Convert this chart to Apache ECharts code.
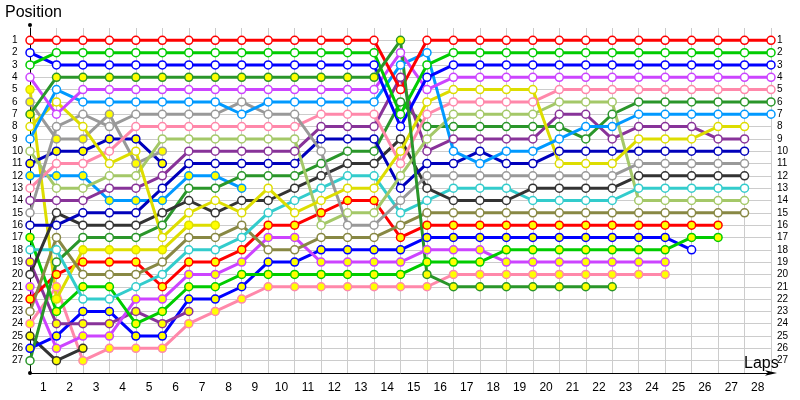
<!DOCTYPE html>
<html>
<head>
<meta charset="utf-8">
<script src="https://cdn.jsdelivr.net/npm/echarts@6/dist/echarts.min.js"></script>
<style>
  html, body { margin: 0; padding: 0; background: #fff; }
  #chart { width: 800px; height: 400px; }
</style>
</head>
<body>
<div id="chart"></div>
<script>
// lap labels, shown between the lap lines
const lapLabels = ['1', '2', '3', '4', '5', '6', '7', '8', '9', '10', '11', '12', '13', '14',
  '15', '16', '17', '18', '19', '20', '21', '22', '23', '24', '25', '26', '27', '28']

// running position of each car, index 0 = grid, then one value per lap
const redCar = [1, 1, 1, 1, 1, 1, 1, 1, 1, 1, 1, 1, 1, 1, 5, 1, 1, 1, 1, 1, 1, 1, 1, 1, 1, 1, 1, 1, 1]
const greenCar = [3, 2, 2, 2, 2, 2, 2, 2, 2, 2, 2, 2, 2, 2, 7, 3, 2, 2, 2, 2, 2, 2, 2, 2, 2, 2, 2, 2, 2]
const blueCar = [2, 3, 3, 3, 3, 3, 3, 3, 3, 3, 3, 3, 3, 3, 8, 4, 3, 3, 3, 3, 3, 3, 3, 3, 3, 3, 3, 3, 3]
const violetCar = [4, 7, 5, 5, 5, 5, 5, 5, 5, 5, 5, 5, 5, 5, 2, 5, 4, 4, 4, 4, 4, 4, 4, 4, 4, 4, 4, 4, 4]
const skyCar = [9, 5, 6, 6, 6, 6, 6, 6, 7, 6, 6, 6, 6, 6, 3, 2, 10, 11, 10, 10, 9, 8, 8, 7, 7, 7, 7, 7, 7]
const grayCar = [15, 8, 7, 8, 7, 7, 7, 7, 6, 7, 7, 10, 16, 16, 14, 12, 12, 12, 12, 12, 12, 12, 12, 11, 11, 11, 11, 11]
const pinkCar = [13, 11, 11, 10, 8, 8, 8, 8, 8, 8, 8, 7, 7, 7, 11, 7, 6, 6, 6, 6, 5, 5, 5, 5, 5, 5, 5, 5, 5]
const limeCar = [10, 13, 13, 12, 12, 9, 9, 9, 9, 9, 9, 16, 15, 15, 12, 9, 7, 7, 7, 7, 6, 6, 6, 14, 14, 14, 14, 14]
const purpleCar = [14, 14, 14, 13, 13, 12, 10, 10, 10, 10, 10, 8, 8, 8, 4, 10, 9, 9, 9, 9, 7, 7, 9, 8, 8, 8, 9, 9]
const navyCar = [16, 16, 15, 15, 15, 13, 11, 11, 11, 11, 11, 9, 9, 9, 13, 11, 11, 10, 11, 11, 10, 10, 10, 10, 10, 10, 10, 10]
const forestCar = [27, 19, 17, 17, 17, 16, 13, 13, 12, 12, 12, 11, 10, 10, 6, 8, 8, 8, 8, 8, 8, 9, 7, 6, 6, 6, 6, 6, 6]
const blackCar = [20, 15, 16, 16, 16, 15, 14, 15, 14, 14, 13, 12, 11, 11, 9, 13, 14, 14, 14, 13, 13, 13, 13, 12, 12, 12, 12, 12]
const cyanCar = [18, 18, 22, 22, 21, 20, 18, 18, 17, 15, 14, 13, 12, 12, 15, 14, 13, 13, 13, 14, 14, 14, 14, 13, 13, 13, 13, 13]
const yellowCar = [8, 6, 8, 11, 10, 17, 15, 14, 15, 13, 15, 14, 13, 13, 10, 6, 5, 5, 5, 5, 11, 11, 11, 9, 9, 9, 8, 8]
const oliveCar = [23, 17, 20, 20, 20, 19, 17, 17, 16, 18, 18, 17, 17, 17, 16, 15, 15, 15, 15, 15, 15, 15, 15, 15, 15, 15, 15, 15]

// second class (yellow markers)
const forestB = [7, 4, 4, 4, 4, 4, 4, 4, 4, 4, 4, 4, 4, 4, 1, 20, 21, 21, 21, 21, 21, 21, 21]
const grayB = [6, 9, 9, 7, 11, 10]
const navyB = [11, 10, 10, 9, 9, 11]
const skyB = [12, 12, 12, 14, 14, 14, 12, 12, 13]
const yellowB = [5, 22, 18, 18, 18, 18, 16, 16]
const greenB = [17, 23, 21, 21, 24, 23, 21, 21, 20, 20, 20, 20, 20, 20, 20, 19, 19, 19, 18, 18, 18, 18, 18, 18, 18, 17, 17]
const redB = [22, 20, 19, 19, 19, 21, 19, 19, 18, 16, 16, 15, 14, 14, 17, 16, 16, 16, 16, 16, 16, 16, 16, 16, 16, 16, 16]
const violetB = [21, 26, 25, 25, 22, 22, 20, 20, 19, 17, 17, 19, 19, 19, 19, 18, 18, 18, 19, 19, 19, 19, 19, 19, 19]
const purpleB = [19, 24, 24, 24, 23, 24, 23]
const blueB = [26, 25, 23, 23, 25, 25, 22, 22, 21, 19, 19, 18, 18, 18, 18, 17, 17, 17, 17, 17, 17, 17, 17, 17, 17, 18]
const pinkB = [24, 21, 27, 26, 26, 26, 24, 23, 22, 21, 21, 21, 21, 21, 21, 21, 20, 20, 20, 20, 20, 20, 20, 20, 20]
const blackB = [25, 27, 26]

const WHITE = '#ffffff'
const YELLOW = '#ffff00'
const font = 'Liberation Sans'

const cars = [
  [pinkB, '#ff88aa', YELLOW], [blackB, '#333333', YELLOW], [blueB, '#0000ff', YELLOW],
  [purpleB, '#883399', YELLOW], [violetB, '#cc44ff', YELLOW], [redB, '#ff0000', YELLOW],
  [greenB, '#00cc00', YELLOW], [yellowB, '#dddd00', YELLOW], [skyB, '#0099ff', YELLOW],
  [navyB, '#0000bb', YELLOW], [grayB, '#999999', YELLOW],
  [oliveCar, '#888844', WHITE], [forestCar, '#2a962a', WHITE], [cyanCar, '#33cccc', WHITE],
  [blackCar, '#333333', WHITE], [navyCar, '#0000bb', WHITE], [purpleCar, '#883399', WHITE],
  [limeCar, '#a4c868', WHITE], [pinkCar, '#ff88aa', WHITE], [grayCar, '#999999', WHITE],
  [yellowCar, '#dddd00', WHITE], [skyCar, '#0099ff', WHITE], [violetCar, '#cc44ff', WHITE],
  [blueCar, '#0000ff', WHITE], [greenCar, '#00cc00', WHITE], [redCar, '#ff0000', WHITE],
  [forestB, '#2a962a', YELLOW]
]

const series = cars.map(([pos, color, fill]) => ({
  type: 'line',
  xAxisIndex: 0,
  yAxisIndex: 0,
  data: pos.map((p, lap) => {
    // last blue-B point is drawn hollow in the original
    if (pos === blueB && lap === pos.length - 1) {
      return { value: [lap, p], itemStyle: { color: WHITE } }
    }
    return [lap, p]
  }),
  symbol: 'circle',
  symbolSize: 8,
  showAllSymbol: true,
  lineStyle: { color: color, width: 3 },
  itemStyle: { color: fill, borderColor: color, borderWidth: 1.5 },
  emphasis: { disabled: true },
  z: 3
}))

const chart = echarts.init(document.getElementById('chart'))
chart.setOption({
  animation: false,
  title: [
    { text: 'Position', left: 5, top: 5, padding: 0, textStyle: { fontFamily: font, fontSize: 16, fontWeight: 'normal', color: '#000' } },
    { text: 'Laps', left: 744, top: 356, padding: 0, textStyle: { fontFamily: font, fontSize: 16, fontWeight: 'normal', color: '#000' } }
  ],
  grid: { left: 30, right: 29, top: 28, bottom: 27 },
  xAxis: [
    {
      type: 'value', min: 0, max: 28, interval: 1, position: 'bottom',
      axisLine: {
        onZero: false, lineStyle: { color: '#000', width: 1 },
        symbol: ['circle', 'arrow'], symbolSize: [4, 12], symbolOffset: [0, 6]
      },
      axisTick: { show: false },
      axisLabel: { show: false },
      splitLine: { lineStyle: { color: '#cccccc', width: 1 } }
    },
    {
      type: 'category', data: lapLabels, boundaryGap: true, position: 'bottom',
      axisLine: { show: false, onZero: false }, axisTick: { show: false }, splitLine: { show: false },
      axisLabel: { fontFamily: font, fontSize: 12, color: '#000', margin: 9 }
    }
  ],
  yAxis: [
    {
      type: 'value', inverse: true, min: 0, max: 28, interval: 1,
      axisLine: {
        show: true, onZero: false, lineStyle: { color: '#000', width: 1 },
        symbol: ['none', 'circle'], symbolSize: [4, 4], symbolOffset: [0, 3]
      },
      axisTick: { show: false },
      axisLabel: {
        fontFamily: font, fontSize: 10, color: '#000', align: 'left', margin: 18,
        formatter: v => (v >= 1 && v <= 27 ? String(v) : '')
      },
      splitLine: { showMinLine: false, showMaxLine: false, lineStyle: { color: '#cccccc', width: 1 } }
    },
    {
      type: 'value', inverse: true, min: 0, max: 28, interval: 1, position: 'right',
      axisLine: { show: false, onZero: false }, axisTick: { show: false }, splitLine: { show: false },
      axisLabel: {
        fontFamily: font, fontSize: 10, color: '#000', align: 'left', margin: 6,
        formatter: v => (v >= 1 && v <= 27 ? String(v) : '')
      }
    }
  ],
  series: series
})
</script>
</body>
</html>
